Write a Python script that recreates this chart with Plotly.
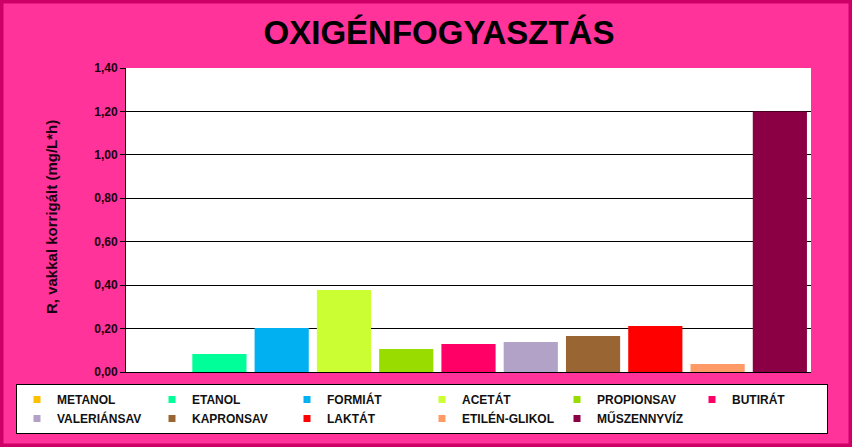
import plotly.graph_objects as go

categories = ["METANOL", "ETANOL", "FORMIÁT", "ACETÁT", "PROPIONSAV", "BUTIRÁT",
              "VALERIÁNSAV", "KAPRONSAV", "LAKTÁT", "ETILÉN-GLIKOL", "MŰSZENNYVÍZ"]
values = [0.0, 0.083, 0.203, 0.378, 0.106, 0.129, 0.138, 0.166, 0.212, 0.037, 1.20]
colors = ["#FFC000", "#00FF99", "#00B0F0", "#CCFF33", "#99DD00", "#FF0066",
          "#B3A2C7", "#996633", "#FF0000", "#FF9966", "#8B0045"]
y_ticks = [0.0, 0.2, 0.4, 0.6, 0.8, 1.0, 1.2, 1.4]

W, H = 852, 447
ML, MR, T, B = 8, 8, 68, 75
pw, ph = W - ML - MR, H - T - B
PL, PR = 126, 811  # plot area pixel edges

fig = go.Figure()
for cat, val, col in zip(categories, values, colors):
    fig.add_trace(go.Bar(x=[cat], y=[val], marker=dict(color=col, line=dict(width=0)),
                         name=cat, showlegend=False))
    fig.add_trace(go.Scatter(x=[None], y=[None], mode="markers", name=cat,
                             marker=dict(symbol="square", size=7, color=col),
                             showlegend=True))

fig.update_layout(
    width=W, height=H,
    margin=dict(l=ML, r=MR, t=T, b=B, autoexpand=False),
    paper_bgcolor="#FF3399", plot_bgcolor="#FFFFFF",
    barmode="overlay", bargap=0.13,
    separators=",.",
    font=dict(family="Liberation Sans, Arial, sans-serif", color="#000000"),
    title=dict(text="OXIGÉNFOGYASZTÁS", x=439 / W, xanchor="center",
               y=1 - 32 / H, yanchor="middle",
               font=dict(size=33, weight="bold", color="#000000",
                         family="Liberation Sans, Arial, sans-serif")),
    xaxis=dict(domain=[(PL - ML) / pw, (PR - ML) / pw],
               categoryorder="array", categoryarray=categories,
               range=[-0.5, len(categories) - 0.5],
               showticklabels=False, ticks="", showgrid=False,
               showline=True, linecolor="#000000", linewidth=1, zeroline=False),
    yaxis=dict(range=[0, 1.4], tickvals=y_ticks, tickformat=".2f",
               ticks="outside", ticklen=5, tickcolor="#000000",
               showline=True, linecolor="#000000", linewidth=1,
               showgrid=True, gridcolor="#000000", gridwidth=1, zeroline=False,
               tickfont=dict(size=12, weight="bold", color="#1A0010")),
    legend=dict(orientation="h", xref="container", yref="container",
                x=16 / W, xanchor="left", y=1 - 384 / H, yanchor="top",
                bgcolor="#FFFFFF", bordercolor="#000000", borderwidth=1,
                entrywidth=90, entrywidthmode="pixels", tracegroupgap=0,
                font=dict(size=12, weight="bold", color="#111111"),
                itemclick=False, itemdoubleclick=False),
    annotations=[dict(text="R, vakkal korrigált (mg/L*h)", textangle=-90,
                      xref="paper", yref="paper", x=(51 - ML) / pw, y=(T + ph - 217) / ph,
                      xanchor="center", yanchor="middle", showarrow=False,
                      font=dict(size=15, weight="bold", color="#1A0010"))],
    shapes=[dict(type="rect", xref="paper", yref="paper",
                 x0=-ML / pw, x1=1 + MR / pw, y0=-B / ph, y1=1 + T / ph,
                 line=dict(color="#CC0066", width=7), fillcolor="rgba(0,0,0,0)",
                 layer="above")],
)

fig.write_html("out.html", config={"displayModeBar": False},
               post_script="document.body.style.margin='0';"
                           "document.documentElement.style.overflow='hidden';")
